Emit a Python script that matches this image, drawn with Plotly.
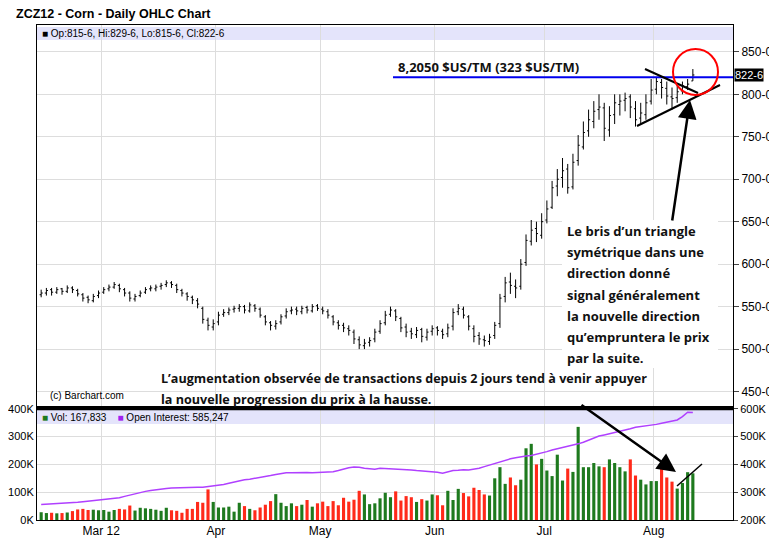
import pandas as pd
import plotly.graph_objects as go

# trading days Feb 13 - Aug 10 2012
holidays = ["2012-02-20", "2012-04-06", "2012-05-28", "2012-07-04"]
dates = [d for d in pd.bdate_range("2012-02-13", "2012-08-10") if d.strftime("%Y-%m-%d") not in holidays]

opens = [564,566,570,567,571,568,572,569,564,561, 557,563,567,571,573,575,570,566,559,563,
         567,571,571,574,576,578,575,569,565,561, 557,548,534,526,532,541,543,547,548,550,
         545,551,547,538,531,527,532,539,545,547, 544,549,545,551,547,544,538,531,528,524,
         520,511,504,508,512,521,531,541,545,536, 526,521,517,523,514,521,525,521,518,527,
         544,547,538,524,516,511,509,516,530,562, 579,574,574,602,627,642,634,652,667,692,
         702,712,691,722,738,757,768,782,784,758, 776,788,793,797,783,772,776,792,806,814,
         807,797,796,804,809,815.75]
highs = [570,572,572,573,572,575,574,571,566,563, 565,569,573,576,579,577,572,568,565,569,
         573,575,576,578,581,580,577,571,567,563, 560,550,537,535,544,547,549,551,553,552,
         555,553,549,540,533,534,541,548,550,550, 551,551,553,553,550,547,540,534,531,528,
         523,515,512,514,524,534,545,550,547,538, 530,525,526,525,524,528,527,524,530,548,
         553,550,540,528,520,516,518,532,565,585, 590,582,606,635,652,650,660,675,698,712,
         725,718,730,752,768,782,792,800,790,786, 800,800,802,800,792,790,800,818,820,818,
         815,808,810,815,818,829.75]
lows = [561,563,563,565,564,566,566,562,556,554, 555,560,565,568,571,567,562,556,556,561,
        565,568,568,570,573,572,566,562,557,553, 548,530,522,522,528,538,540,543,544,542,
        543,544,537,528,522,523,529,536,541,540, 541,542,543,545,541,536,528,523,520,516,
        506,500,500,503,508,518,528,538,533,520, 514,512,513,508,510,516,516,512,514,522,
        540,536,522,508,505,503,505,512,525,555, 565,560,570,598,622,626,630,648,665,680,
        690,683,688,716,735,750,760,770,745,750, 765,775,780,772,762,765,770,788,800,795,
        788,782,790,800,805,815.75]
closes = [566,569,567,570,568,572,570,565,560,558, 562,566,570,573,576,571,566,560,562,566,
          570,572,573,575,578,576,570,566,562,558, 553,535,528,530,540,543,546,548,550,546,
          552,548,540,532,528,530,538,544,546,545, 548,546,550,548,545,540,532,528,525,522,
          512,505,507,510,520,530,540,546,538,525, 520,518,522,515,520,524,522,517,525,543,
          548,540,527,515,512,510,514,528,560,578, 575,572,600,628,640,636,650,665,690,700,
          710,690,720,740,755,770,780,785,760,775, 790,792,795,785,770,778,790,805,815,808,
          798,795,803,810,812,822.75]
volume_k = [28,25,26,24,25,27,32,38,40,36, 37,35,36,30,36,40,38,52,34,44,
            42,40,37,33,44,35,33,26,40,40, 65,62,110,65,45,45,48,30,62,50,
            40,35,45,55,68,93,62,50,60,50, 55,72,48,60,66,50,68,53,80,66,
            73,105,92,57,60,78,98,82,103,70, 86,82,65,75,70,92,89,53,105,72,
            112,97,85,116,108,92,88,150,190,130, 153,125,145,258,274,200,220,178,158,235,
            142,185,173,335,190,190,205,193,190,218, 205,190,175,218,160,145,128,140,140,193,
            153,138,113,133,172,168]
oi_k = [256,257,258,258,259,260,262,264,266,268, 270,272,273,275,277,280,285,290,295,300,
        303,306,309,311,313,315,316,317,318,318, 318,318,320,322,325,328,332,337,342,345,
        347,350,352,355,360,364,368,370,370,371, 372,371,370,371,370,372,374,378,384,388,
        391,390,386,385,383,386,385,384,383,384, 381,380,378,377,375,374,372,368,374,378,
        379,381,380,382,386,392,398,404,410,415, 420,424,428,430,432,436,440,446,452,456,
        460,466,470,474,480,488,495,502,506,510, 516,518,522,528,534,536,540,540,544,548,
        552,556,560,572,588,587]

month_starts = ["2012-03-01", "2012-04-01", "2012-05-01", "2012-06-01", "2012-07-01", "2012-08-01"]
month_labels = ["Mar 12", "Apr", "May", "Jun", "Jul", "Aug"]
price_ticks = [450, 500, 550, 600, 650, 700, 750, 800, 850]
vol_ticks = [0, 100, 200, 300, 400]
oi_ticks = [200, 300, 400, 500, 600]

idx = list(range(len(dates)))
month_idx = [next(i for i, d in enumerate(dates) if d >= pd.Timestamp(m)) - 0.5 for m in month_starts]

vol_colors = []
for i, c in enumerate(closes):
    prev = closes[i - 1] if i > 0 else c
    vol_colors.append("#1e7a1e" if c >= prev else "#ff2a1a")

fig = go.Figure()
fig.add_trace(go.Ohlc(x=idx, open=opens, high=highs, low=lows, close=closes,
                      increasing_line_color="black", decreasing_line_color="black",
                      line_width=1, tickwidth=0.3, xaxis="x", yaxis="y", showlegend=False,
                      hoverinfo="skip"))
fig.add_trace(go.Bar(x=idx, y=volume_k, marker_color=vol_colors, marker_line_width=0,
                     xaxis="x2", yaxis="y2", showlegend=False, width=0.6))
fig.add_trace(go.Scatter(x=idx, y=oi_k, mode="lines", line=dict(color="#b040ff", width=1.5),
                         xaxis="x2", yaxis="y3", showlegend=False))

grid = "#dddddd"
xrange = [-0.8, 132.7]
xcommon = dict(range=xrange, tickvals=month_idx, showgrid=True, gridcolor=grid, zeroline=False,
               showline=True, linecolor="black", mirror=True, automargin=False)

# the page body adds an 8px offset, so the figure is 8px smaller and margins shifted
fig.update_layout(
    width=769, height=539, paper_bgcolor="white", plot_bgcolor="white",
    margin=dict(l=29, r=44, t=17, b=27),
    font=dict(family="Liberation Sans, Arial", size=11, color="black"),
    xaxis=dict(xcommon, domain=[0, 1], anchor="y", showticklabels=False, ticks="",
               rangeslider=dict(visible=False)),
    xaxis2=dict(xcommon, domain=[0, 1], anchor="y2", ticktext=month_labels,
                ticks="", tickfont=dict(size=12, family="Liberation Sans Narrow, Arial")),
    yaxis=dict(domain=[0.2303, 1], side="right", range=[433, 881.6], tickvals=price_ticks,
               ticktext=[f"{v}-0" for v in price_ticks], ticks="outside", ticklen=5,
               showgrid=True, gridcolor=grid, zeroline=False, showline=True, linecolor="black",
               mirror=True, tickfont=dict(size=12), automargin=False),
    yaxis2=dict(domain=[0, 0.2263], anchor="x2", side="left", range=[0, 403], tickvals=vol_ticks,
                ticktext=[f"{v}K" for v in vol_ticks], ticks="", showgrid=True, gridcolor=grid,
                zeroline=False, showline=True, linecolor="black", mirror=True,
                tickfont=dict(size=11), automargin=False),
    yaxis3=dict(overlaying="y2", side="right", anchor="x2", range=[200, 603], tickvals=oi_ticks,
                ticktext=[f"{v}K" for v in oi_ticks], ticks="outside", ticklen=4,
                showgrid=False, zeroline=False, tickfont=dict(size=11), automargin=False),
)

def py(pix):
    return (520 - pix) / 495

def px_(pix):
    return (pix - 37) / 696

# legend bands
fig.add_shape(type="rect", xref="paper", yref="paper", x0=0, x1=1, y0=py(40), y1=py(27),
              fillcolor="#e4e4fb", line_width=0, layer="below")
fig.add_shape(type="rect", xref="paper", yref="paper", x0=0, x1=1, y0=py(424), y1=py(410),
              fillcolor="#e4e4fb", line_width=0, layer="below")
fig.add_shape(type="line", xref="paper", yref="paper", x0=0, x1=1, y0=py(409), y1=py(409),
              line=dict(color="black", width=2.5))

fig.add_annotation(xref="paper", yref="paper", x=px_(14), y=py(14), xanchor="left", yanchor="middle",
                   text="<b>ZCZ12 - Corn - Daily OHLC Chart</b>", showarrow=False,
                   font=dict(size=12.5, family="Liberation Sans, Arial"))
fig.add_annotation(xref="paper", yref="paper", x=0.005, y=py(33.5), xanchor="left", yanchor="middle",
                   text="■ Op:815-6, Hi:829-6, Lo:815-6, Cl:822-6", showarrow=False, font=dict(size=10))
fig.add_annotation(xref="paper", yref="paper", x=0.005, y=py(417), xanchor="left", yanchor="middle",
                   text="<span style='color:#1e7a1e'>■</span> Vol: 167,833    <span style='color:#a020f0'>■</span> Open Interest: 585,247",
                   showarrow=False, font=dict(size=10))
fig.add_annotation(xref="paper", yref="paper", x=px_(48), y=py(396), xanchor="left", yanchor="middle",
                   text="(c) Barchart.com", showarrow=False, font=dict(size=10))

# resistance line 820
fig.add_shape(type="line", xref="paper", yref="y", x0=px_(393), x1=1, y0=820, y1=820,
              line=dict(color="#0000ee", width=2))
fig.add_annotation(xref="paper", yref="y", x=px_(396), y=820, xanchor="left", yanchor="bottom",
                   yshift=-1, text="<b>8,2050 $US/TM (323 $US/TM)</b>", showarrow=False,
                   font=dict(size=13, family="Open Sans, DejaVu Sans", color="#111111"))
fig.add_annotation(xref="paper", yref="y", x=1, y=822.75, xanchor="left", yanchor="middle", xshift=1,
                   text="822-6", showarrow=False, bgcolor="black", font=dict(color="white", size=11),
                   borderpad=0)

# triangle
fig.add_shape(type="line", xref="paper", yref="paper", x0=px_(645), y0=py(69), x1=px_(698), y1=py(93),
              line=dict(color="black", width=2))
fig.add_shape(type="line", xref="paper", yref="paper", x0=px_(637), y0=py(126), x1=px_(720), y1=py(85),
              line=dict(color="black", width=2))
fig.add_shape(type="circle", xref="paper", yref="paper",
              x0=px_(673), x1=px_(718), y0=py(95), y1=py(49), line=dict(color="red", width=2))

# white panel behind the comment
fig.add_shape(type="rect", xref="paper", yref="paper", x0=px_(562), x1=px_(718), y0=py(368), y1=py(220),
              fillcolor="white", line_width=0)

# arrows
fig.add_annotation(xref="paper", yref="paper", x=px_(690), y=py(100),
                   ax=-18, ay=122, showarrow=True, arrowhead=2, arrowsize=1.5, arrowwidth=2.5,
                   arrowcolor="black", text="")
fig.add_annotation(xref="paper", yref="paper", x=px_(676), y=py(472),
                   ax=-96, ay=-68, showarrow=True, arrowhead=2, arrowsize=1.5, arrowwidth=2.5,
                   arrowcolor="black", text="")
fig.add_shape(type="line", xref="paper", yref="paper", x0=px_(677), y0=py(486),
              x1=px_(702), y1=py(464), line=dict(color="black", width=1.5))

comment_lines = ["Le bris d’un triangle", "symétrique dans une", "direction donné", "signal généralement",
                 "la nouvelle direction", "qu’empruntera le prix", "par la suite."]
for k, line in enumerate(comment_lines):
    fig.add_annotation(xref="paper", yref="paper", x=px_(565), y=py(231 + 21.2 * k), xanchor="left",
                       yanchor="middle", text=f"<b>{line}</b>", showarrow=False,
                       font=dict(size=13, family="Open Sans, DejaVu Sans", color="#111111"))
for k, line in enumerate(["L’augmentation observée de transactions depuis 2 jours tend à venir appuyer",
                          "la nouvelle progression du prix à la hausse."]):
    fig.add_annotation(xref="paper", yref="paper", x=px_(159), y=py(379 + 20 * k), xanchor="left",
                       yanchor="middle", text=f"<b>{line}</b>", showarrow=False,
                       font=dict(size=12.6, family="Open Sans, DejaVu Sans", color="#111111"))

fig.write_html("out.html")
